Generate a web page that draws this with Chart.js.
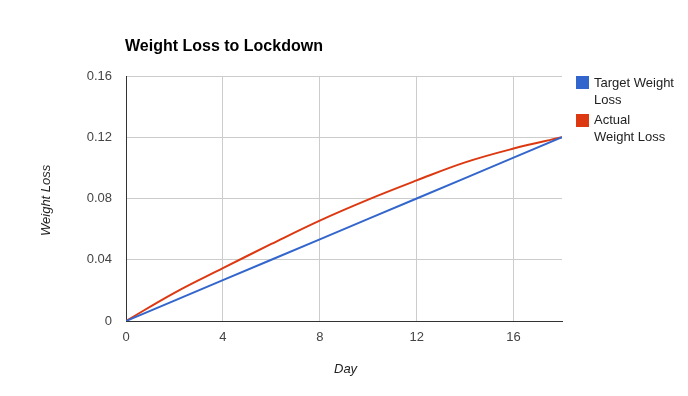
<!DOCTYPE html>
<html>
<head>
<meta charset="utf-8">
<script src="https://cdn.jsdelivr.net/npm/chart.js@4"></script>
<style>
  body { margin: 0; background: #fff; font-family: Arial, "Liberation Sans", sans-serif; }
  #wrap { position: relative; width: 688px; height: 396px; }
  canvas { position: absolute; left: 0; top: 0; }
  .txt { position: absolute; white-space: nowrap; color: #222; }
  #title { left: 125px; top: 37px; font-size: 16px; font-weight: bold; color: #000; }
  #ytitle { left: 38px; top: 236px; font-size: 13px; font-style: italic; transform-origin: 0 0; transform: rotate(-90deg); line-height: 15px; }
  #xtitle { left: 334px; top: 361px; font-size: 13px; font-style: italic; }
  .sw { position: absolute; width: 13px; height: 13px; }
  .lg { position: absolute; font-size: 13px; line-height: 17px; color: #222; }
</style>
</head>
<body>
<div id="wrap">
  <canvas id="chart" width="688" height="396"></canvas>
  <div class="txt" id="title">Weight Loss to Lockdown</div>
  <div class="txt" id="ytitle">Weight Loss</div>
  <div class="txt" id="xtitle">Day</div>
  <div class="sw" style="left:576px;top:76px;background:#3366cc"></div>
  <div class="lg" style="left:594px;top:74px">Target Weight<br>Loss</div>
  <div class="sw" style="left:576px;top:114px;background:#dc3912"></div>
  <div class="lg" style="left:594px;top:111px">Actual<br>Weight Loss</div>
</div>
<script>
// data
const days = [0, 2, 4, 6, 8, 10, 12, 14, 16, 18];
const targetLoss = [0, 0.0133, 0.0267, 0.04, 0.0533, 0.0667, 0.08, 0.0933, 0.1067, 0.12];
const actualLoss = [0, 0.0184, 0.0345, 0.0503, 0.0656, 0.0793, 0.0918, 0.1036, 0.1126, 0.12];
const xTicks = [0, 4, 8, 12, 16];
const yTicks = [0, 0.04, 0.08, 0.12, 0.16];
const yTickLabels = ['0', '0.04', '0.08', '0.12', '0.16'];

function pts(ys) {
  return days.map((d, i) => ({ x: d, y: ys[i] }));
}

const ctx = document.getElementById('chart').getContext('2d');
new Chart(ctx, {
  type: 'line',
  data: {
    datasets: [
      {
        label: 'Target Weight Loss',
        data: pts(targetLoss),
        borderColor: '#3366cc',
        borderWidth: 2,
        pointRadius: 0,
        tension: 0
      },
      {
        label: 'Actual Weight Loss',
        data: pts(actualLoss),
        borderColor: '#dc3912',
        borderWidth: 2,
        pointRadius: 0,
        tension: 0.4
      }
    ]
  },
  options: {
    responsive: false,
    animation: false,
    layout: { padding: { left: 0, top: 76, right: 126, bottom: 0 } },
    plugins: { legend: { display: false }, title: { display: false }, tooltip: { enabled: false } },
    scales: {
      x: {
        type: 'linear',
        min: 0,
        max: 18,
        afterBuildTicks: s => { s.ticks = xTicks.map(v => ({ value: v })); },
        afterFit: s => { s.height = 75; },
        grid: { color: '#cccccc', drawTicks: false },
        border: { color: '#333333', width: 1 },
        ticks: { color: '#444', padding: 9, font: { family: 'Arial', size: 13 }, maxRotation: 0 }
      },
      y: {
        min: 0,
        max: 0.16,
        afterBuildTicks: s => { s.ticks = yTicks.map(v => ({ value: v })); },
        afterFit: s => { s.width = 126; },
        grid: { color: '#cccccc', drawTicks: false },
        border: { color: '#333333', width: 1 },
        ticks: {
          color: '#444',
          padding: 14,
          font: { family: 'Arial', size: 13 },
          callback: (v, i) => yTickLabels[yTicks.indexOf(v)] ?? ''
        }
      }
    }
  }
});
</script>
</body>
</html>
